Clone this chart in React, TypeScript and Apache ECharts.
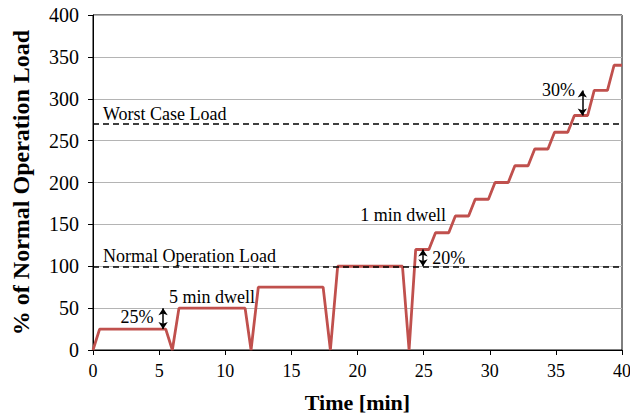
import React, { useEffect, useRef } from "react";
import * as echarts from "echarts";

const timeMin = [0, 0.5, 5.5, 6.0, 6.5, 11.5, 11.95, 12.5, 17.4, 17.95, 18.5, 23.4, 23.9, 24.4,
  25.4, 25.9, 26.9, 27.4, 28.4, 28.9, 29.9, 30.4, 31.4, 31.9, 32.9, 33.4, 34.4, 34.9, 35.9, 36.4,
  37.4, 37.9, 38.9, 39.4, 40];
const loadPct = [0, 25, 25, 0, 50, 50, 0, 75, 75, 0, 100, 100, 0, 120,
  120, 140, 140, 160, 160, 180, 180, 200, 200, 220, 220, 240, 240, 260, 260, 280,
  280, 310, 310, 340, 340];
const normalLoad = 100;
const worstLoad = 270;
const xTicks = { min: 0, max: 40, interval: 5 };
const yTicks = { min: 0, max: 400, interval: 50 };
const arrows = [
  { x: 5.3, from: 25, to: 50 },
  { x: 24.95, from: 100, to: 120 },
  { x: 37.0, from: 280, to: 310 },
];
const notes = [
  { text: "25%", x: 3.33, y: 40 },
  { text: "5 min dwell", x: 9.0, y: 63 },
  { text: "20%", x: 26.9, y: 110 },
  { text: "1 min dwell", x: 23.45, y: 161 },
  { text: "30%", x: 35.2, y: 310 },
];

const FONT = "Liberation Serif";

export default function App() {
  const ref = useRef<HTMLDivElement>(null);
  useEffect(() => {
    document.body.style.margin = "0";
    const chart = echarts.init(ref.current!, null, { renderer: "svg" });
    const data = timeMin.map((t, i) => [t, loadPct[i]]);
    const tickLabel = (size: number) => ({
      fontFamily: FONT, fontSize: size, color: "#000",
      formatter: "{t|{value}}",
      rich: { t: { fontFamily: FONT, fontSize: size, color: "#000" } },
    });
    chart.setOption({
      animation: false,
      backgroundColor: "#fff",
      textStyle: { fontFamily: FONT },
      grid: {
        left: 93, right: 8, top: 15, bottom: 66,
        outerBoundsMode: "none",
        containLabel: false,
        show: true, borderColor: "#000", borderWidth: 1, backgroundColor: "transparent",
      },
      xAxis: {
        type: "value",
        ...xTicks,
        name: "Time [min]",
        nameLocation: "middle",
        nameGap: 41,
        nameTextStyle: { fontFamily: FONT, fontWeight: "bold", fontSize: 22, color: "#000", lineHeight: 22 },
        axisLine: { show: true, lineStyle: { color: "#000", width: 1 } },
        axisTick: { show: true, inside: false, length: 5, lineStyle: { color: "#000" } },
        axisLabel: { ...tickLabel(18), margin: 12 },
        splitLine: { show: false },
      },
      yAxis: {
        type: "value",
        ...yTicks,
        name: "% of Normal Operation Load",
        nameLocation: "middle",
        nameGap: 60,
        nameTextStyle: { fontFamily: FONT, fontWeight: "bold", fontSize: 24, color: "#000" },
        axisLine: { show: true, lineStyle: { color: "#000", width: 1 } },
        axisTick: { show: true, inside: false, length: 5, lineStyle: { color: "#000" } },
        axisLabel: { ...tickLabel(20), margin: 14 },
        splitLine: { show: true, lineStyle: { color: "#b4b4b4", width: 1 } },
      },
      series: [
        {
          type: "line",
          data,
          showSymbol: false,
          symbol: "none",
          lineStyle: { color: "#c0504d", width: 2.8 },
          z: 3,
          markLine: {
            silent: true,
            symbol: "none",
            lineStyle: { color: "#000", type: [6, 4], width: 1.5 },
            label: {
              show: true,
              position: "insideStartTop",
              fontFamily: FONT,
              fontSize: 18,
              color: "#000",
              distance: [10, 1],
            },
            data: [
              { yAxis: normalLoad, label: { formatter: "Normal Operation Load" } },
              { yAxis: worstLoad, label: { formatter: "Worst Case Load" } },
            ],
          },
          markPoint: {
            silent: true,
            symbol: "circle",
            symbolSize: 0,
            label: {
              show: true,
              position: "inside",
              fontFamily: FONT,
              fontSize: 18,
              color: "#000",
            },
            data: notes.map((n) => ({
              coord: [n.x, n.y],
              label: { formatter: n.text },
            })),
          },
        },
        {
          type: "line",
          data: [],
          z: 4,
          markLine: {
            silent: true,
            symbol: ["arrow", "arrow"],
            symbolSize: [7, 7],
            lineStyle: { color: "#000", type: "solid", width: 1.5 },
            label: { show: false },
            itemStyle: { color: "#000" },
            data: arrows.map((a) => [
              { coord: [a.x, a.from] },
              { coord: [a.x, a.to] },
            ]),
          },
        },
      ],
    });
    return () => chart.dispose();
  }, []);
  return <div ref={ref} style={{ width: 630, height: 416 }} />;
}
